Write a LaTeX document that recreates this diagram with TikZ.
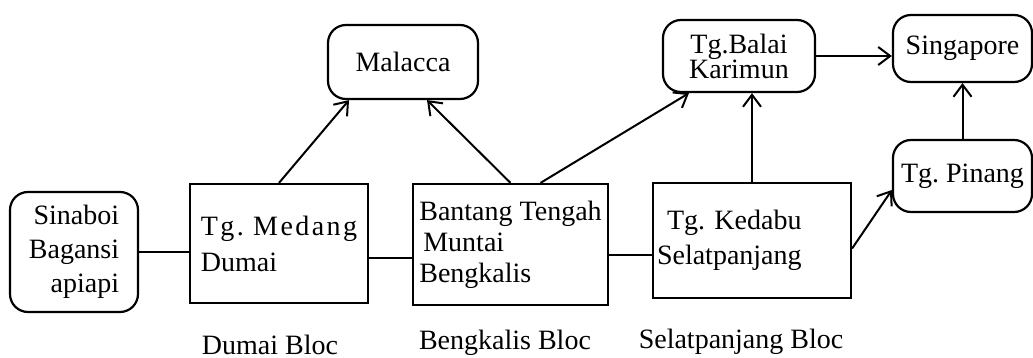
\documentclass[tikz,border=0pt]{standalone}
\usepackage{fontspec}
\setmainfont{Liberation Serif}
\newfontfamily\spaced[LetterSpace=8.7]{Liberation Serif}
\usetikzlibrary{arrows.meta}
\frenchspacing
\tikzset{
  port/.style={draw, line width=1.1pt, rounded corners=9pt, align=center},
  blocbox/.style={draw, line width=1.1pt, align=left},
  link/.style={line width=1pt},
  route/.style={line width=1pt, -{Straight Barb[length=6pt,width=9pt]}},
}
\begin{document}
\begin{tikzpicture}[x=0.5pt, y=-0.5pt, font=\fontsize{14}{17}\selectfont]
    \useasboundingbox (0,0) rectangle (1033,358);
    % ports
    \node[port, minimum width=75pt, minimum height=37pt] (malacca) at (403,62) {Malacca};
    \node[port, minimum width=76pt, minimum height=36pt, font=\fontsize{14}{12.5}\selectfont] (balai) at (739,56) {Tg.Balai\\Karimun};
    \node[port, minimum width=69.5pt, minimum height=33.5pt] (singapore) at (962.5,48.5) {Singapore};
    \node[port, minimum width=69.5pt, minimum height=36pt] (pinang) at (962.5,176) {Tg. Pinang};
    \node[port, minimum width=64pt, minimum height=60pt, align=right] (sinaboi) at (74,252) {Sinaboi\\Bagansi\\apiapi};
    % blocs
    \node[blocbox, minimum width=89pt, minimum height=59.5pt, font=\fontsize{14}{18}\selectfont] (medang) at (279,243.5) {{\spaced Tg. Medang}\\Dumai};
    \node[blocbox, minimum width=97.5pt, minimum height=60.5pt, font=\fontsize{14}{15.5}\selectfont] (bantang) at (510.5,244.5) {Bantang Tengah\\\hspace*{2pt}Muntai\\Bengkalis};
    \node[blocbox, minimum height=57.5pt, text width=95pt, inner xsep=2pt, font=\fontsize{14}{17.5}\selectfont] (kedabu) at (752,240.5) {\hspace*{5pt}Tg. Kedabu\\Selatpanjang};
    \node (dumaibloc) at (270,345) {Dumai Bloc};
    \node (bengkalisbloc) at (505,343) {Bengkalis Bloc};
    \node (selatbloc) at (741,342) {Selatpanjang Bloc};
    % links and routes
    \draw[link] (sinaboi.east) -- (sinaboi.east -| medang.west);
    \draw[link] ([yshift=-7pt]medang.east) -- ([yshift=-7pt]medang.east -| bantang.west);
    \draw[link] ([yshift=-5pt]bantang.east) -- ([yshift=-5pt]bantang.east -| kedabu.west);
    \draw[route] (medang.north) -- ([xshift=-27pt]malacca.south);
    \draw[route] (bantang.north) -- ([xshift=12pt]malacca.south);
    \draw[route] ([xshift=15pt]bantang.north) -- ([xshift=-25pt]balai.south);
    \draw[route] (kedabu.north) -- (kedabu.north |- balai.south);
    \draw[route] (balai.east) -- (balai.east -| singapore.west);
    \draw[route] ([yshift=-4pt]kedabu.east) -- ([yshift=-7pt]pinang.west);
    \draw[route] (pinang.north) -- (singapore.south);
\end{tikzpicture}
\end{document}
